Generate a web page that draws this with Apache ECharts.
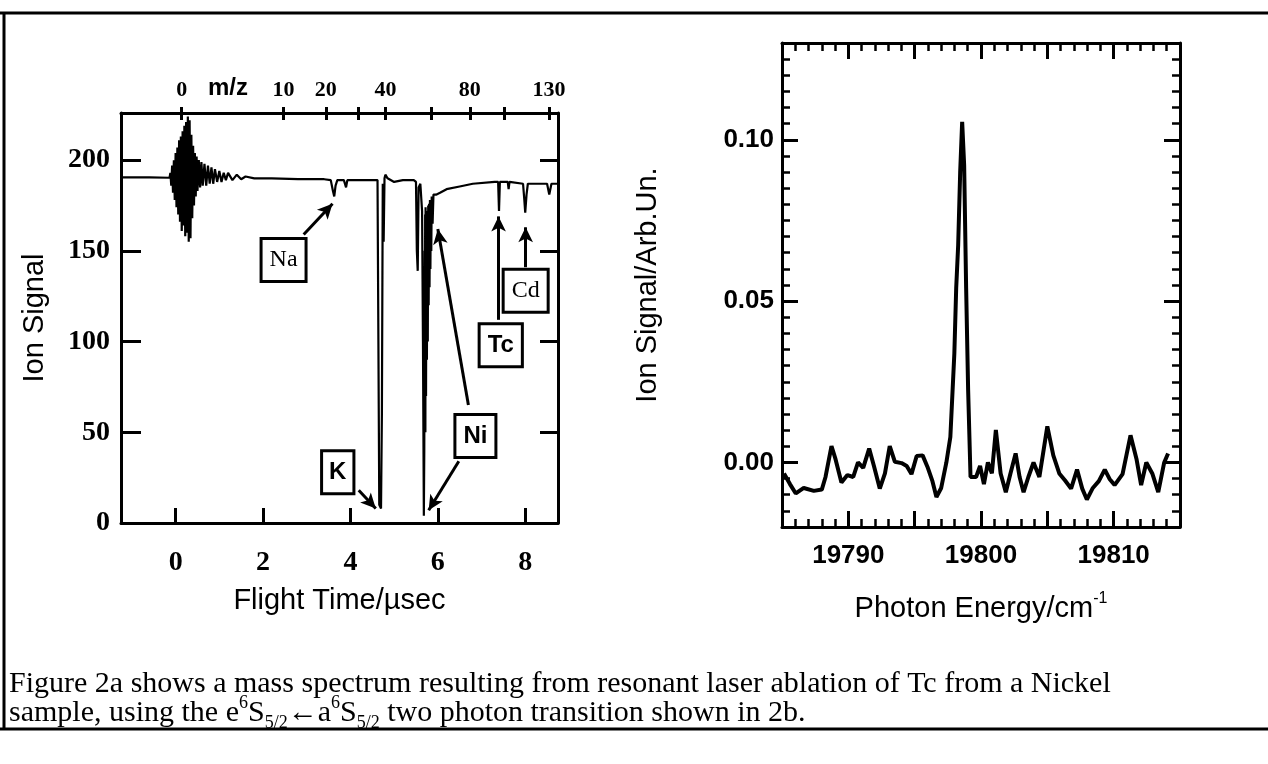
<!DOCTYPE html>
<html>
<head>
<meta charset="utf-8">
<script src="https://cdn.jsdelivr.net/npm/echarts@6/dist/echarts.min.js"></script>
<style>
html, body { margin: 0; padding: 0; background: #fff; }
#chart { width: 1268px; height: 764px; }
</style>
</head>
<body>
<div id="chart"></div>
<script>
// --- fig 2a: time of flight mass spectrum ---
var flightTime = [
    -1.25, -0.6, -0.14, -0.12, -0.10, -0.08, -0.06, -0.04, -0.02, 0,
    0.02, 0.04, 0.06, 0.08, 0.10, 0.12, 0.14, 0.16, 0.18, 0.20,
    0.22, 0.24, 0.26, 0.28, 0.30, 0.32, 0.34, 0.36, 0.38, 0.40,
    0.42, 0.44, 0.46, 0.48, 0.50, 0.53, 0.56, 0.59, 0.62, 0.66,
    0.70, 0.74, 0.78, 0.82, 0.86, 0.90, 0.95, 1.0, 1.05, 1.1,
    1.15, 1.2, 1.3, 1.4, 1.5, 1.6, 1.8, 2.2, 2.8, 3.4,
    3.55, 3.6, 3.63, 3.66, 3.7, 3.85, 3.9, 3.93, 4.3, 4.62,
    4.64, 4.66, 4.70, 4.72, 4.74, 4.76, 4.78, 4.80, 4.85, 5.0,
    5.2, 5.45, 5.5, 5.52, 5.54, 5.56, 5.6, 5.62, 5.64, 5.66,
    5.68, 5.69, 5.70, 5.705, 5.71, 5.715, 5.72, 5.73, 5.74, 5.75,
    5.76, 5.77, 5.78, 5.79, 5.80, 5.81, 5.82, 5.83, 5.84, 5.85,
    5.86, 5.88, 5.90, 5.96, 6.05, 6.2, 6.5, 6.8, 7.3, 7.38,
    7.40, 7.42, 7.6, 7.62, 7.64, 7.95, 7.98, 8.0, 8.03, 8.06,
    8.3, 8.5, 8.55, 8.6, 8.75
];
var ionSignal = [
    190.5, 190.5, 190.3, 193, 186, 197, 182, 200, 178, 204,
    174, 207, 170, 211, 166, 213, 161, 216, 164, 219,
    158, 221, 160, 224, 155, 222, 157, 214, 168, 208,
    175, 204, 180, 202, 183, 200, 185, 199, 186, 198,
    186, 197, 187, 196, 187, 195, 188, 194, 188, 193,
    189, 193, 189, 192, 189.5, 191, 190, 190, 189.5, 189.5,
    189, 183, 180, 186, 189, 189, 185, 189, 189, 189,
    100, 10, 8, 60, 187, 155, 190, 192, 190, 188,
    189, 189, 188, 150, 139, 185, 187, 186, 172, 100,
    4, 40, 150, 60, 170, 50, 174, 70, 170, 90,
    172, 100, 175, 120, 176, 130, 178, 140, 178, 150,
    180, 165, 181, 181, 182, 184, 185.5, 187, 188, 188,
    172, 188, 188, 184, 188, 187, 178, 171, 181, 187,
    187, 187, 181, 187, 187
];
var timeTicks = [0, 2, 4, 6, 8];
var signalTicks = [0, 50, 100, 150, 200];
var signalRightTicks = [50, 100, 150, 200];
var mzTicks = [0, 10, 20, 30, 40, 60, 80, 100, 130];
var mzLabels = [0, 10, 20, 40, 80, 130];
// flight time calibration: t = t0 + k * sqrt(m/z)
var tofT0 = 0.14, tofK = 0.737;

// labelled peaks: box centre [t, signal] and arrows [from, to]
var peakBoxes = [
    { name: 'Na', at: [2.47, 145], serif: true },
    { name: 'K', at: [3.71, 28] },
    { name: 'Ni', at: [6.86, 48] },
    { name: 'Tc', at: [7.44, 98] },
    { name: 'Cd', at: [8.01, 128], serif: true }
];
var peakArrows = [
    [[2.93, 159], [3.59, 176]],
    [[4.19, 18], [4.58, 8]],
    [[6.70, 65], [6.0, 162]],
    [[6.48, 34], [5.79, 7]],
    [[7.39, 112], [7.39, 169]],
    [[8.01, 141], [8.01, 163]]
];

// --- fig 2b: two photon resonance scan ---
var photonEnergy = [
    19785.15, 19785.6, 19786.04, 19786.64, 19787.4, 19788.0, 19788.28, 19788.73, 19789.03, 19789.48,
    19789.93, 19790.37, 19790.73, 19791.12, 19791.57, 19791.93, 19792.37, 19792.76, 19793.12, 19793.51,
    19794.01, 19794.4, 19794.76, 19795.15, 19795.6, 19795.96, 19796.34, 19796.64, 19797.0, 19797.39,
    19797.69, 19797.99, 19798.13, 19798.28, 19798.43, 19798.58, 19798.73, 19798.88, 19799.03, 19799.21,
    19799.63, 19799.93, 19800.22, 19800.52, 19800.82, 19801.12, 19801.48, 19801.87, 19802.22, 19802.61,
    19802.91, 19803.21, 19803.57, 19803.96, 19804.4, 19805.0, 19805.45, 19805.9, 19806.34, 19806.79,
    19807.24, 19807.63, 19807.98, 19808.43, 19808.88, 19809.33, 19809.69, 19810.07, 19810.67, 19811.27,
    19811.72, 19812.07, 19812.46, 19812.91, 19813.36, 19813.81, 19814.1
];
var scanSignal = [
    -0.0034, -0.0067, -0.0096, -0.0079, -0.0088, -0.0084, -0.0045, 0.0051, 0.0011, -0.0062,
    -0.0039, -0.0045, 0.0, -0.0017, 0.0043, -0.0011, -0.0081, -0.0034, 0.0051, 0.0002,
    -0.0002, -0.0011, -0.0036, 0.002, 0.0022, -0.0013, -0.0058, -0.0107, -0.0079, 0.0,
    0.0079, 0.0337, 0.054, 0.0674, 0.0899, 0.1056, 0.0922, 0.054, 0.0225, -0.0045,
    -0.0045, -0.0011, -0.0067, 0.0, -0.0034, 0.0101, -0.0034, -0.0092, -0.0034, 0.0028,
    -0.0045, -0.0092, -0.0045, 0.0, -0.0045, 0.0112, 0.0022, -0.0034, -0.0056, -0.0081,
    -0.0022, -0.0081, -0.0115, -0.0079, -0.0058, -0.0022, -0.0051, -0.007, -0.0036, 0.0084,
    0.0011, -0.007, 0.0, -0.0034, -0.0092, 0.0, 0.0028
];
var energyLabels = [19790, 19800, 19810];
var scanMajorTicks = [0, 0.05, 0.10];

var SERIF = '"Liberation Serif", "Times New Roman", serif';
var SANS = '"Liberation Sans", Arial, sans-serif';

function mzToTime(m) { return tofT0 + tofK * Math.sqrt(m); }
function zip(a, b) { return a.map(function (v, i) { return [v, b[i]]; }); }

var chart = echarts.init(document.getElementById('chart'));

var line3 = { show: true, onZero: false, lineStyle: { color: '#000', width: 3 } };
var noLine = { show: false, onZero: false };

var option = {
    animation: false,
    backgroundColor: '#fff',
    grid: [
        { left: 121, top: 113, width: 437, height: 410, outerBoundsMode: 'none' },
        { left: 782, top: 43, width: 398, height: 484, outerBoundsMode: 'none' }
    ],
    xAxis: [
        {   // flight time, bottom
            gridIndex: 0, type: 'value', position: 'bottom', min: -1.25, max: 8.75,
            axisLine: line3,
            axisTick: { inside: true, length: 15, lineStyle: { color: '#000', width: 3 }, customValues: timeTicks },
            axisLabel: { customValues: timeTicks, margin: 26, color: '#000', fontFamily: SERIF, fontWeight: 'bold', fontSize: 28 },
            splitLine: { show: false },
            name: 'Flight Time/\u00b5sec', nameLocation: 'middle', nameGap: 63,
            nameTextStyle: { color: '#000', fontFamily: SANS, fontSize: 29 }
        },
        {   // m/z scale, top, outer half of ticks
            gridIndex: 0, type: 'value', position: 'top', min: -1.25, max: 8.75,
            axisLine: line3,
            axisTick: { inside: false, length: 6, lineStyle: { color: '#000', width: 3 }, customValues: mzTicks.map(mzToTime) },
            axisLabel: {
                customValues: mzLabels.map(mzToTime), margin: 12, color: '#000',
                fontFamily: SERIF, fontWeight: 'bold', fontSize: 22,
                formatter: function (v) { var m = (v - tofT0) / tofK; return String(Math.round(m * m)); }
            },
            splitLine: { show: false }
        },
        {   // m/z scale, top, inner half of ticks
            gridIndex: 0, type: 'value', position: 'top', min: -1.25, max: 8.75,
            axisLine: noLine,
            axisTick: { inside: true, length: 7, lineStyle: { color: '#000', width: 3 }, customValues: mzTicks.map(mzToTime) },
            axisLabel: { show: false },
            splitLine: { show: false }
        },
        {   // photon energy, bottom
            gridIndex: 1, type: 'value', position: 'bottom', min: 19785, max: 19815, interval: 5,
            axisLine: line3,
            axisTick: { inside: true, length: 16, lineStyle: { color: '#000', width: 3 } },
            minorTick: { show: true, splitNumber: 5, length: 8, lineStyle: { color: '#000', width: 2.5 } },
            axisLabel: {
                customValues: energyLabels, margin: 16, color: '#000', fontFamily: SANS, fontWeight: 'bold', fontSize: 26,
                formatter: function (v) { return String(v); }
            },
            splitLine: { show: false },
            name: 'Photon Energy/cm{sup|-1}', nameLocation: 'middle', nameGap: 64,
            nameTextStyle: {
                color: '#000', fontFamily: SANS, fontSize: 29, lineHeight: 36,
                rich: { sup: { fontFamily: SANS, fontSize: 16, verticalAlign: 'top', lineHeight: 36, color: '#000' } }
            }
        },
        {   // photon energy, top
            gridIndex: 1, type: 'value', position: 'top', min: 19785, max: 19815, interval: 5,
            axisLine: line3,
            axisTick: { inside: true, length: 16, lineStyle: { color: '#000', width: 3 } },
            minorTick: { show: true, splitNumber: 5, length: 8, lineStyle: { color: '#000', width: 2.5 } },
            axisLabel: { show: false },
            splitLine: { show: false }
        }
    ],
    yAxis: [
        {   // ion signal, left
            gridIndex: 0, type: 'value', position: 'left', min: 0, max: 226,
            axisLine: line3,
            axisTick: { inside: true, length: 20, lineStyle: { color: '#000', width: 3 }, customValues: signalTicks },
            axisLabel: { customValues: signalTicks, margin: 11, color: '#000', fontFamily: SERIF, fontWeight: 'bold', fontSize: 28 },
            splitLine: { show: false },
            name: 'Ion Signal', nameLocation: 'middle', nameGap: 72,
            nameTextStyle: { color: '#000', fontFamily: SANS, fontSize: 29 }
        },
        {   // ion signal, right
            gridIndex: 0, type: 'value', position: 'right', min: 0, max: 226,
            axisLine: line3,
            axisTick: { inside: true, length: 18, lineStyle: { color: '#000', width: 3 }, customValues: signalRightTicks },
            axisLabel: { show: false },
            splitLine: { show: false }
        },
        {   // scan signal, left, major ticks + labels
            gridIndex: 1, type: 'value', position: 'left', min: -0.02, max: 0.13,
            axisLine: line3,
            axisTick: { inside: true, length: 16, lineStyle: { color: '#000', width: 3 }, customValues: scanMajorTicks },
            axisLabel: {
                customValues: scanMajorTicks, margin: 8, color: '#000', fontFamily: SANS, fontWeight: 'bold', fontSize: 26,
                formatter: function (v) { return v.toFixed(2); }
            },
            splitLine: { show: false },
            name: 'Ion Signal/Arb.Un.', nameLocation: 'middle', nameGap: 120,
            nameTextStyle: { color: '#000', fontFamily: SANS, fontSize: 29 }
        },
        {   // scan signal, left, minor ticks
            gridIndex: 1, type: 'value', position: 'left', min: -0.02, max: 0.13, interval: 0.005,
            axisLine: noLine,
            axisTick: { inside: true, length: 8, lineStyle: { color: '#000', width: 2.5 } },
            axisLabel: { show: false },
            splitLine: { show: false }
        },
        {   // scan signal, right, major ticks
            gridIndex: 1, type: 'value', position: 'right', min: -0.02, max: 0.13,
            axisLine: line3,
            axisTick: { inside: true, length: 16, lineStyle: { color: '#000', width: 3 }, customValues: scanMajorTicks },
            axisLabel: { show: false },
            splitLine: { show: false }
        },
        {   // scan signal, right, minor ticks
            gridIndex: 1, type: 'value', position: 'right', min: -0.02, max: 0.13, interval: 0.005,
            axisLine: noLine,
            axisTick: { inside: true, length: 8, lineStyle: { color: '#000', width: 2.5 } },
            axisLabel: { show: false },
            splitLine: { show: false }
        }
    ],
    series: [
        {
            type: 'line', xAxisIndex: 0, yAxisIndex: 0,
            data: zip(flightTime, ionSignal),
            showSymbol: false, symbol: 'none',
            lineStyle: { color: '#000', width: 2.2 },
            markLine: {
                silent: true, symbol: ['none', 'arrow'], symbolSize: [11, 15],
                label: { show: false },
                lineStyle: { color: '#000', width: 3, type: 'solid' },
                data: peakArrows.map(function (a) {
                    return [{ coord: a[0] }, { coord: a[1] }];
                })
            },
            markPoint: {
                silent: true, symbol: 'rect', symbolSize: 0,
                data: peakBoxes.map(function (b) {
                    return {
                        coord: b.at, value: b.name,
                        label: {
                            show: true, position: 'inside', formatter: b.name,
                            color: '#000', fontSize: 24,
                            fontFamily: b.serif ? SERIF : SANS,
                            fontWeight: b.serif ? 'normal' : 'bold',
                            backgroundColor: '#fff', borderColor: '#000', borderWidth: 3,
                            padding: b.name === 'K' ? [9, 6, 7, 6] : [9, 7, 7, 7]
                        }
                    };
                })
            }
        },
        {
            type: 'line', xAxisIndex: 3, yAxisIndex: 2,
            data: zip(photonEnergy, scanSignal),
            showSymbol: false, symbol: 'none',
            lineStyle: { color: '#000', width: 4 }
        }
    ],
    graphic: [
        { type: 'line', shape: { x1: 0, y1: 13, x2: 1268, y2: 13 }, style: { stroke: '#000', lineWidth: 3 } },
        { type: 'line', shape: { x1: 4, y1: 13, x2: 4, y2: 729 }, style: { stroke: '#000', lineWidth: 3 } },
        { type: 'line', shape: { x1: 0, y1: 729, x2: 1268, y2: 729 }, style: { stroke: '#000', lineWidth: 3 } },
        {
            type: 'text', left: 208, top: 76,
            style: { text: 'm/z', font: 'bold 24px ' + SANS, fill: '#000' }
        },
        {
            type: 'text', left: 9, top: 669,
            style: {
                text: 'Figure 2a shows a mass spectrum resulting from resonant laser ablation of Tc from a Nickel',
                font: '30px ' + SERIF, fill: '#000'
            }
        },
        {
            type: 'text', left: 9, top: 694,
            style: {
                text: 'sample, using the e{sup|6}S{sub|5/2}\u2190a{sup|6}S{sub|5/2} two photon transition shown in 2b.',
                font: '30px ' + SERIF, fill: '#000', lineHeight: 38,
                rich: {
                    sup: { fontFamily: SERIF, fontSize: 18, verticalAlign: 'top', lineHeight: 38, fill: '#000' },
                    sub: { fontFamily: SERIF, fontSize: 18, verticalAlign: 'bottom', lineHeight: 38, fill: '#000' }
                }
            }
        }
    ]
};

chart.setOption(option);
</script>
</body>
</html>
